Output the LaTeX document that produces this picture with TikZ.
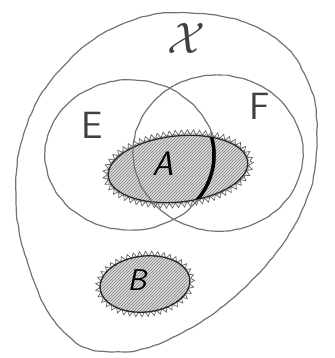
\RequirePackage{fix-cm}
\documentclass[tikz,border=0pt]{standalone}
\usepackage{tikz}
\usetikzlibrary{decorations.pathmorphing, patterns}

\begin{document}
\begin{tikzpicture}[
    x=1pt, y=-1pt,
    sketch/.style={draw=black!55, line width=1.2pt, decorate,
                   decoration={random steps, segment length=5pt, amplitude=0.5pt},
                   rounded corners=1.5pt},
    blob/.style={preaction={fill=black!14}, pattern=north east lines,
                 pattern color=black!50},
    fuzz/.style={draw=black!60, line width=0.7pt, decorate,
                 decoration={zigzag, segment length=6pt, amplitude=2.6pt}},
    rim/.style={draw=black!85, line width=1.2pt},
    letter/.style={font=\fontsize{38}{40}\selectfont\sffamily, text=black!75},
]
\useasboundingbox (0,0) rectangle (334,358);

% the set X
\draw[sketch] plot[smooth cycle, tension=0.7] coordinates {(190,13) (262,30) (305,75) (317,140)
    (302,210) (252,280) (178,335) (110,352) (62,330) (30,270) (16,200) (25,130) (60,70) (120,25)};

% A and B
\path[blob] (178,169) ellipse [x radius=72, y radius=35, rotate=6];
\draw[fuzz] (178,169) ellipse [x radius=73, y radius=36, rotate=6];
\draw[rim] (178,169) ellipse [x radius=70, y radius=33, rotate=6];
\path[blob] (145,284) ellipse [x radius=46, y radius=29, rotate=6];
\draw[fuzz] (145,284) ellipse [x radius=47, y radius=30, rotate=6];
\draw[rim] (145,284) ellipse [x radius=45, y radius=28, rotate=6];

% E and F
\draw[sketch] (130,155) ellipse [x radius=85, y radius=75];
\draw[sketch] (218,153) ellipse [x radius=85, y radius=78, rotate=-4];

% edge of E inside A
\begin{scope}
  \clip (178,169) ellipse [x radius=70, y radius=33, rotate=6];
  \draw[black, line width=3.5pt] (130,155) ellipse [x radius=84, y radius=75];
\end{scope}

\node[letter, font=\fontsize{44}{46}\selectfont] (labX) at (186,38) {$\mathcal{X}$};
\node[letter] (labE) at (92,125) {E};
\node[letter] (labF) at (260,106) {F};
\node[letter, font=\fontsize{34}{36}\selectfont\sffamily\itshape, text=black] (labA) at (163,164) {A};
\node[letter, font=\fontsize{30}{32}\selectfont\sffamily\itshape, text=black] (labB) at (137,280) {B};
\end{tikzpicture}
\end{document}
